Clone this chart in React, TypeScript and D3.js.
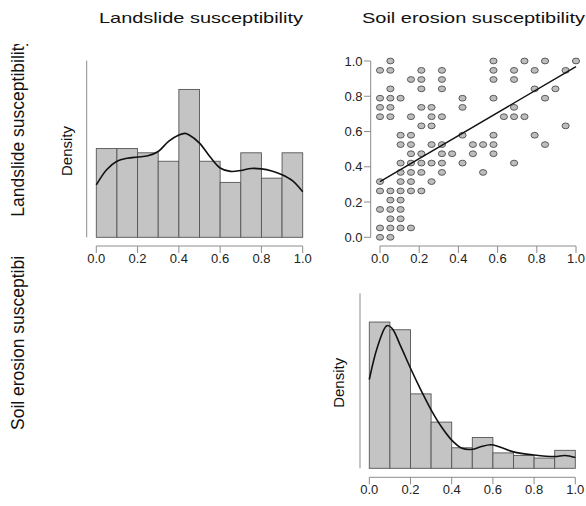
import React, { useEffect, useRef } from 'react';
import * as d3 from 'd3';

// histogram bins (density) for the two diagonal panels
const binEdges = [0, 0.1, 0.2, 0.3, 0.4, 0.5, 0.6, 0.7, 0.8, 0.9, 1.0];
const landslideDensity = [1.05, 1.05, 1.0, 0.9, 1.75, 0.9, 0.65, 1.0, 0.7, 1.0];
const erosionDensity = [2.85, 2.7, 1.45, 0.9, 0.4, 0.6, 0.3, 0.25, 0.2, 0.35];

// kernel density curves
const landslideCurveX = [0, 0.05, 0.1, 0.15, 0.2, 0.25, 0.3, 0.35, 0.4, 0.43, 0.45, 0.5, 0.55, 0.6, 0.65, 0.7, 0.75, 0.8, 0.85, 0.9, 0.95, 1.0];
const landslideCurveY = [0.62, 0.8, 0.9, 0.935, 0.95, 0.965, 1.015, 1.135, 1.21, 1.23, 1.21, 1.115, 0.955, 0.82, 0.78, 0.79, 0.815, 0.81, 0.785, 0.74, 0.67, 0.54];
const erosionCurveX = [0, 0.04, 0.085, 0.11, 0.15, 0.2, 0.25, 0.3, 0.35, 0.4, 0.45, 0.5, 0.54, 0.59, 0.63, 0.7, 0.8, 0.9, 0.95, 1.0];
const erosionCurveY = [1.73, 2.37, 2.78, 2.73, 2.4, 1.95, 1.53, 1.14, 0.81, 0.55, 0.39, 0.37, 0.42, 0.46, 0.42, 0.32, 0.26, 0.23, 0.25, 0.21];

// scatter: x = soil erosion, y = landslide
const scatterX = [
  0.053, 0.579, 0.737, 0.842, 1,
  0, 0.053, 0.211, 0.316, 0.579, 0.684, 0.789, 0.947,
  0.158, 0.211, 0.316, 0.579, 0.684,
  0.053, 0.211, 0.316, 0.789, 0.895,
  0, 0.053, 0.105, 0.421, 0.579, 0.842,
  0, 0.053, 0.211, 0.263, 0.421, 0.684,
  0, 0.053, 0.158, 0.263, 0.316, 0.632, 0.684, 0.737,
  0.211, 0.263, 0.947,
  0.105, 0.158, 0.421, 0.579, 0.789,
  0.105, 0.158, 0.263, 0.316, 0.474, 0.526, 0.579, 0.842,
  0.158, 0.211, 0.316, 0.368, 0.474, 0.579,
  0.105, 0.158, 0.211, 0.263, 0.316, 0.421, 0.684,
  0.105, 0.158, 0.211, 0.316, 0.526,
  0, 0.105, 0.158, 0.263,
  0, 0.053, 0.105, 0.158, 0.211,
  0.053, 0.105,
  0, 0.053, 0.105,
  0.053, 0.105,
  0, 0.053, 0.105, 0.158,
  0, 0.053
];
const scatterY = [
  1, 1, 1, 1, 1,
  0.947, 0.947, 0.947, 0.947, 0.947, 0.947, 0.947, 0.947,
  0.895, 0.895, 0.895, 0.895, 0.895,
  0.842, 0.842, 0.842, 0.842, 0.842,
  0.789, 0.789, 0.789, 0.789, 0.789, 0.789,
  0.737, 0.737, 0.737, 0.737, 0.737, 0.737,
  0.684, 0.684, 0.684, 0.684, 0.684, 0.684, 0.684, 0.684,
  0.632, 0.632, 0.632,
  0.579, 0.579, 0.579, 0.579, 0.579,
  0.526, 0.526, 0.526, 0.526, 0.526, 0.526, 0.526, 0.526,
  0.474, 0.474, 0.474, 0.474, 0.474, 0.474,
  0.421, 0.421, 0.421, 0.421, 0.421, 0.421, 0.421,
  0.368, 0.368, 0.368, 0.368, 0.368,
  0.316, 0.316, 0.316, 0.316,
  0.263, 0.263, 0.263, 0.263, 0.263,
  0.211, 0.211,
  0.158, 0.158, 0.158,
  0.105, 0.105,
  0.053, 0.053, 0.053, 0.053,
  0, 0
];

// fitted line ends
const fitX = [0, 1];
const fitY = [0.316, 0.968];

const ticks = [0, 0.2, 0.4, 0.6, 0.8, 1.0];
const titles = ['Landslide susceptibility', 'Soil erosion susceptibility'];

const FONT = '"Liberation Sans", Arial, sans-serif';
const AXIS_GREY = '#8c8c8c';

const App = () => {
  const ref = useRef<SVGSVGElement>(null);

  useEffect(() => {
    const svg = d3.select(ref.current);
    svg.selectAll('*').remove();

    const xAxisAt = (x: d3.ScaleLinear<number, number>, y: number, labelY: number) => {
      const g = svg.append('g');
      g.append('line')
        .attr('x1', x(0)).attr('x2', x(1))
        .attr('y1', y).attr('y2', y)
        .attr('stroke', AXIS_GREY);
      g.selectAll('line.tick').data(ticks).enter().append('line')
        .attr('class', 'tick')
        .attr('x1', d => x(d)).attr('x2', d => x(d))
        .attr('y1', y).attr('y2', y + 7)
        .attr('stroke', AXIS_GREY);
      g.selectAll('text').data(ticks).enter().append('text')
        .attr('x', d => x(d))
        .attr('y', labelY)
        .attr('text-anchor', 'middle')
        .attr('font-size', 13)
        .attr('fill', '#222')
        .text(d => d.toFixed(1));
    };

    const hist = (values: number[], curveX: number[], curveY: number[],
                  x: d3.ScaleLinear<number, number>, y: d3.ScaleLinear<number, number>,
                  axisX: number, densityX: number) => {
      svg.append('g').selectAll('rect').data(values).enter().append('rect')
        .attr('x', (d, i) => x(binEdges[i]))
        .attr('width', (d, i) => x(binEdges[i + 1]) - x(binEdges[i]))
        .attr('y', d => y(d))
        .attr('height', d => y(0) - y(d))
        .attr('fill', '#c4c4c4')
        .attr('stroke', '#555')
        .attr('stroke-width', 0.9);

      const line = d3.line<number>()
        .x((d, i) => x(curveX[i]))
        .y(d => y(d))
        .curve(d3.curveCatmullRom);
      svg.append('path')
        .datum(curveY)
        .attr('d', line)
        .attr('fill', 'none')
        .attr('stroke', '#111')
        .attr('stroke-width', 1.6);

      // y axis without ticks
      svg.append('line')
        .attr('x1', axisX).attr('x2', axisX)
        .attr('y1', y(0)).attr('y2', y(y.domain()[1]))
        .attr('stroke', AXIS_GREY);

      const mid = (y(0) + y(y.domain()[1])) / 2;
      svg.append('text')
        .attr('transform', `translate(${densityX}, ${mid + 2}) rotate(-90)`)
        .attr('text-anchor', 'middle')
        .attr('font-size', 15)
        .attr('fill', '#111')
        .text('Density');
    };

    svg.attr('font-family', FONT);

    // titles
    svg.selectAll('text.title').data(titles).enter().append('text')
      .attr('class', 'title')
      .attr('x', (d, i) => (i === 0 ? 99 : 362))
      .attr('y', 23.3)
      .attr('font-size', 15)
      .attr('textLength', (d, i) => (i === 0 ? 204 : 223))
      .attr('lengthAdjust', 'spacingAndGlyphs')
      .attr('fill', '#111')
      .text(d => d);

    // row labels, clipped at the cell top
    const defs = svg.append('defs');
    defs.append('clipPath').attr('id', 'row1')
      .append('rect').attr('x', 0).attr('y', 44).attr('width', 60).attr('height', 200);
    defs.append('clipPath').attr('id', 'row2')
      .append('rect').attr('x', 0).attr('y', 257).attr('width', 60).attr('height', 200);
    [[216.7, 'row1', titles[0]], [430, 'row2', titles[1]]].forEach(([yy, clip, label]) => {
      svg.append('g').attr('clip-path', `url(#${clip})`)
        .append('text')
        .attr('transform', `translate(24, ${yy}) rotate(-90)`)
        .attr('font-size', 17.5)
        .attr('fill', '#111')
        .text(label as string);
    });

    // top-left: landslide histogram
    const x1 = d3.scaleLinear().domain([0, 1]).range([96.3, 302.7]);
    const y1 = d3.scaleLinear().domain([0, 2.09]).range([237.3, 60.7]);
    hist(landslideDensity, landslideCurveX, landslideCurveY, x1, y1, 86.7, 72);
    xAxisAt(x1, 246, 263);

    // top-right: scatter
    const x2 = d3.scaleLinear().domain([0, 1]).range([380, 576]);
    const y2 = d3.scaleLinear().domain([0, 1]).range([237.3, 61]);
    const ya = svg.append('g');
    ya.append('line')
      .attr('x1', 370.7).attr('x2', 370.7)
      .attr('y1', y2(0)).attr('y2', y2(1))
      .attr('stroke', AXIS_GREY);
    ya.selectAll('line.tick').data(ticks).enter().append('line')
      .attr('x1', 364).attr('x2', 370.7)
      .attr('y1', d => y2(d)).attr('y2', d => y2(d))
      .attr('stroke', AXIS_GREY);
    ya.selectAll('text').data(ticks).enter().append('text')
      .attr('x', 362.5)
      .attr('y', d => y2(d) + 4.5)
      .attr('text-anchor', 'end')
      .attr('font-size', 13)
      .attr('fill', '#222')
      .text(d => d.toFixed(1));
    xAxisAt(x2, 246, 263);

    svg.append('g').selectAll('ellipse').data(scatterX).enter().append('ellipse')
      .attr('cx', d => x2(d))
      .attr('cy', (d, i) => y2(scatterY[i]))
      .attr('rx', 3.6)
      .attr('ry', 2.9)
      .attr('fill', '#bdbdbd')
      .attr('stroke', '#4d4d4d')
      .attr('stroke-width', 0.9);

    svg.append('path')
      .datum(fitX)
      .attr('d', d3.line<number>().x(d => x2(d)).y((d, i) => y2(fitY[i])))
      .attr('stroke', '#111')
      .attr('stroke-width', 1.4)
      .attr('fill', 'none');

    // bottom-right: soil erosion histogram
    const x3 = d3.scaleLinear().domain([0, 1]).range([369.3, 575.3]);
    const y3 = d3.scaleLinear().domain([0, 3.41]).range([468.3, 293.3]);
    hist(erosionDensity, erosionCurveX, erosionCurveY, x3, y3, 360, 344);
    xAxisAt(x3, 477.3, 494);
  }, []);

  return (
    <svg ref={ref} width={586} height={506}
      style={{ position: 'absolute', left: 0, top: 0, background: '#fff' }} />
  );
};

export default App;
